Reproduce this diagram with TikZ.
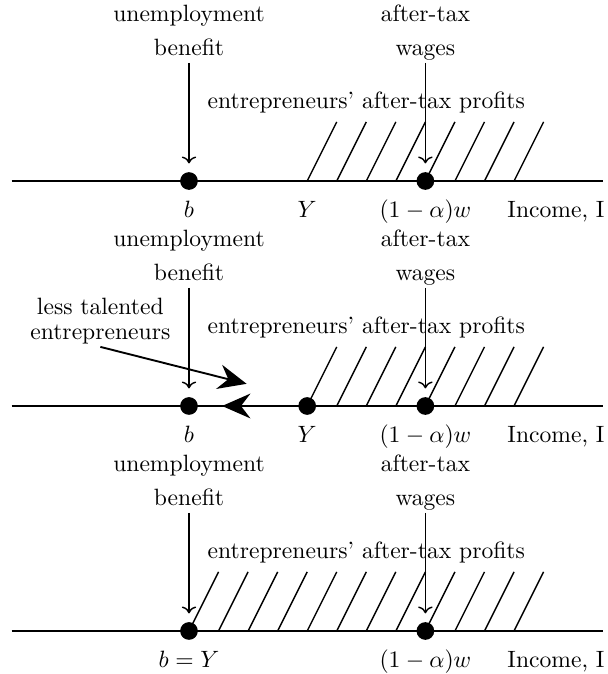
\documentclass[tikz,border=0pt]{standalone}
\usetikzlibrary{arrows.meta}
\begin{document}
\begin{tikzpicture}[x=0.44cm,y=0.44cm,
    bullet/.style={circle,fill,inner sep=0pt,minimum size=7.5pt},
    toplbl/.style={above,align=center,inner sep=3pt,text depth=0pt},
    axlbl/.style={anchor=base},
    bigtip/.style={thick,-{Stealth[length=12pt,width=10.5pt,inset=4pt]}}]
  \useasboundingbox (-6.396,-16.684) rectangle (14.146,6.125);
  % first panel
  \draw[thick] (-6,0) -- (14,0);
  \draw[semithick]
    (4,0) -- (5,2) (5,0) -- (6,2) (6,0) -- (7,2) (7,0) -- (8,2)
    (8,0) -- (9,2) (9,0) -- (10,2) (10,0) -- (11,2) (11,0) -- (12,2);
  \node[bullet] (b1) at (0,0) {};
  \node[bullet] (w1) at (8,0) {};
  \node[axlbl] (lb1) at (0,-1.22) {$b$};
  \node[axlbl] (ly1) at (4,-1.22) {$Y$};
  \node[axlbl] (lw1) at (8,-1.22) {$(1-\alpha)w$};
  \node[axlbl] (li1) at (12.42,-1.22) {Income, I};
  \node[toplbl] (ub1) at (0,4) {unemployment\\[2.5pt]benefit};
  \node[toplbl] (aw1) at (8,4) {after-tax\\[2.5pt]wages};
  \node[above] (pf1) at (6,2) {entrepreneurs' after-tax profits};
  \draw[semithick,->,shorten >=3.5pt] (ub1) -- (b1);
  \draw[semithick,->,shorten >=3.5pt] (aw1) -- (w1);
  % second panel
  \begin{scope}[shift={(0,-7.614)}]
    \draw[thick] (-6,0) -- (14,0);
    \draw[semithick]
      (4,0) -- (5,2) (5,0) -- (6,2) (6,0) -- (7,2) (7,0) -- (8,2)
      (8,0) -- (9,2) (9,0) -- (10,2) (10,0) -- (11,2) (11,0) -- (12,2);
    \node[bullet] (b2) at (0,0) {};
    \node[bullet] (y2) at (4,0) {};
    \node[bullet] (w2) at (8,0) {};
    \node[axlbl] (lb2) at (0,-1.22) {$b$};
    \node[axlbl] (ly2) at (4,-1.22) {$Y$};
    \node[axlbl] (lw2) at (8,-1.22) {$(1-\alpha)w$};
    \node[axlbl] (li2) at (12.42,-1.22) {Income, I};
    \node[toplbl] (ub2) at (0,4) {unemployment\\[2.5pt]benefit};
    \node[toplbl] (aw2) at (8,4) {after-tax\\[2.5pt]wages};
    \node[above] (pf2) at (6,2) {entrepreneurs' after-tax profits};
    \node[above,align=center,inner sep=1pt] (lt2) at (-3,2) {less talented\\[-1.5pt]entrepreneurs};
    \coordinate (tip2) at (1.12,0);
    \coordinate (hd2) at (1.95,0.75);
    \draw[semithick,->,shorten >=3.5pt] (ub2) -- (b2);
    \draw[semithick,->,shorten >=3.5pt] (aw2) -- (w2);
    \draw[bigtip] (y2) -- (tip2);
    \draw[bigtip] (lt2.south) -- (hd2);
  \end{scope}
  % third panel
  \begin{scope}[shift={(0,-15.228)}]
    \draw[thick] (-6,0) -- (14,0);
    \draw[semithick]
      (0,0) -- (1,2) (1,0) -- (2,2) (2,0) -- (3,2) (3,0) -- (4,2)
      (4,0) -- (5,2) (5,0) -- (6,2) (6,0) -- (7,2) (7,0) -- (8,2)
      (8,0) -- (9,2) (9,0) -- (10,2) (10,0) -- (11,2) (11,0) -- (12,2);
    \node[bullet] (b3) at (0,0) {};
    \node[bullet] (w3) at (8,0) {};
    \node[axlbl] (lb3) at (0,-1.22) {$b=Y$};
    \node[axlbl] (lw3) at (8,-1.22) {$(1-\alpha)w$};
    \node[axlbl] (li3) at (12.42,-1.22) {Income, I};
    \node[toplbl] (ub3) at (0,4) {unemployment\\[2.5pt]benefit};
    \node[toplbl] (aw3) at (8,4) {after-tax\\[2.5pt]wages};
    \node[above] (pf3) at (6,2) {entrepreneurs' after-tax profits};
    \draw[semithick,->,shorten >=3.5pt] (ub3) -- (b3);
    \draw[semithick,->,shorten >=3.5pt] (aw3) -- (w3);
  \end{scope}
\end{tikzpicture}
\end{document}
